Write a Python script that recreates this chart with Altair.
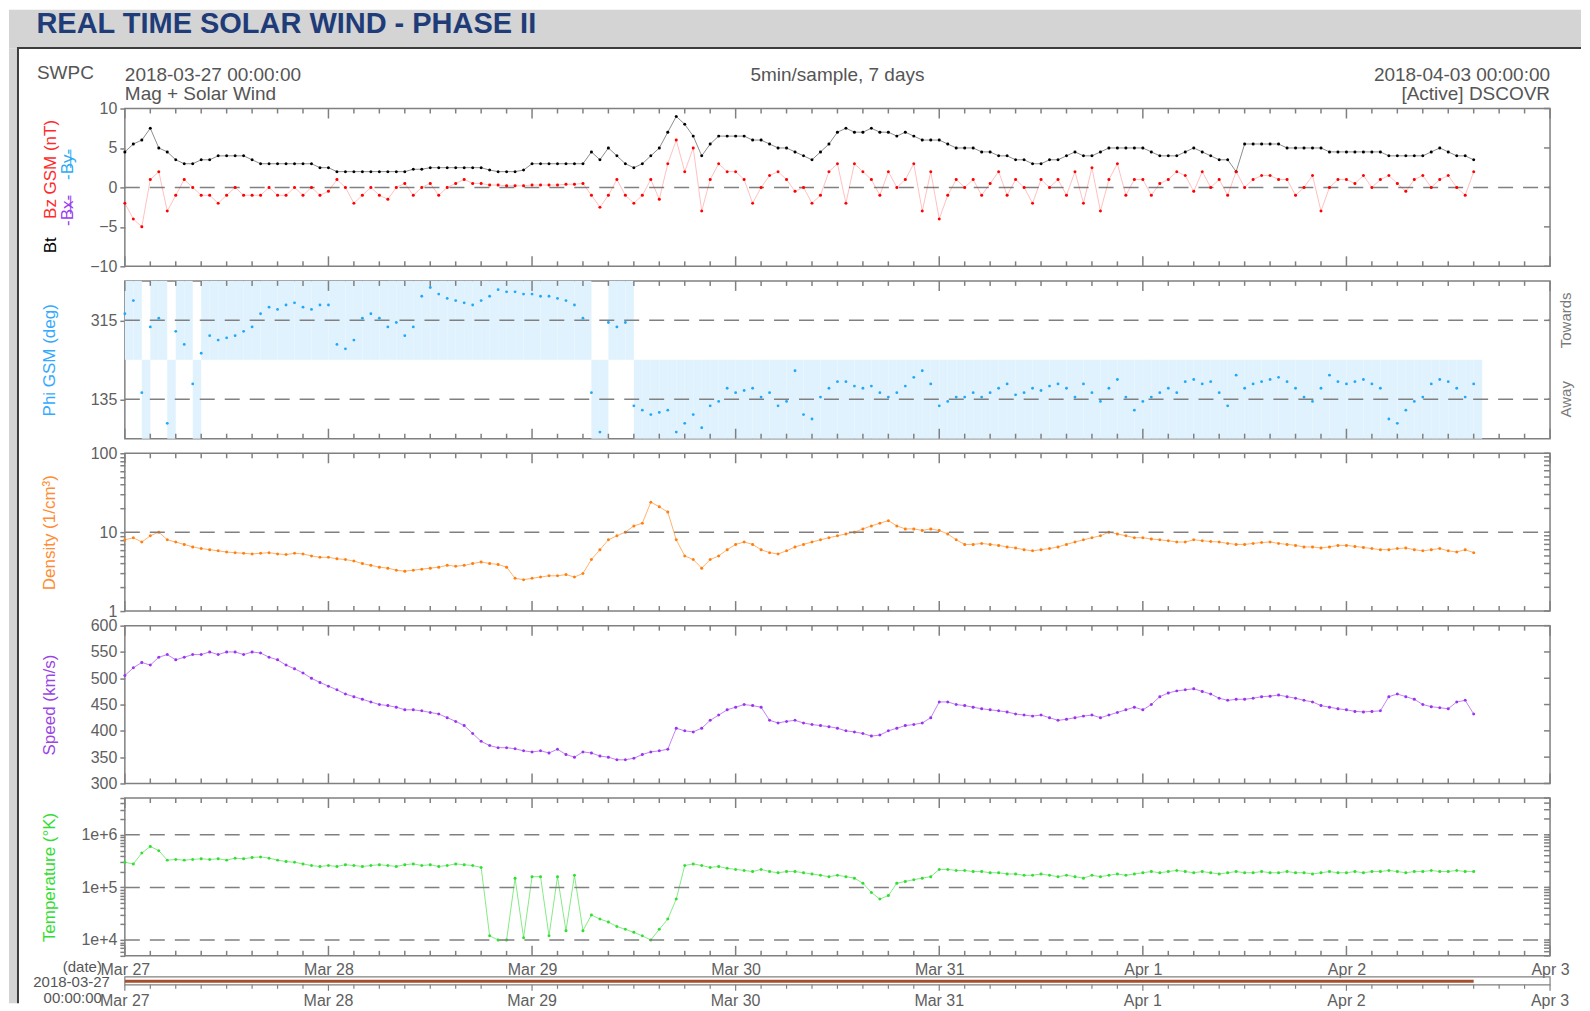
import altair as alt
import pandas as pd

# ---------------- data: hourly readings, hour 0 = 2018-03-27 00:00 UTC ----------------
HOURS = list(range(160))
BT = [4.5, 5.5, 6, 7.5, 5, 4.5, 3.5, 3, 3, 3.5, 3.5, 4, 4, 4, 4, 3.5, 3, 3, 3, 3, 3, 3, 3, 2.5,
      2.5, 2, 2, 2, 2, 2, 2, 2, 2, 2, 2.3, 2.3, 2.5, 2.5, 2.5, 2.5, 2.5, 2.5, 2.5, 2.2, 2, 2, 2, 2.2,
      3, 3, 3, 3, 3, 3, 3, 4.5, 3.5, 5, 4, 3, 2.5, 3, 4, 5, 7, 9, 8, 6.5, 4, 5.5, 6.5, 6.5,
      6.5, 6.5, 6, 6, 5.5, 5, 5, 4.5, 4, 3.5, 4.5, 5.5, 7, 7.5, 7, 7, 7.5, 7, 7, 6.5, 7, 6.5, 6, 6,
      6, 5.5, 5, 5, 5, 4.5, 4.5, 4, 4, 3.5, 3.5, 3, 3, 3.5, 3.5, 4, 4.5, 4, 4, 4.5, 5, 5, 5, 5,
      5, 4.5, 4, 4, 4, 4.5, 5, 4.5, 4, 3.5, 3.5, 2, 5.5, 5.5, 5.5, 5.5, 5.5, 5, 5, 5, 5, 5, 4.5, 4.5,
      4.5, 4.5, 4.5, 4.5, 4.5, 4, 4, 4, 4, 4, 4.5, 5, 4.5, 4, 4, 3.5]
BZ = [-2, -4, -5, 1, 2, -3, -1, 1, 0, -1, -1, -2, -1, 0, -1, -1, -1, 0, -1, -1, 0, -1, 0, -1,
      -0.5, 1, 0, -2, -1, 0, -1, -1.5, 0, 0.5, -1, 0, 0.5, -1, 0, 0.5, 1, 0.5, 0.5, 0.3, 0.3, 0.2, 0.2, 0.2,
      0.3, 0.3, 0.3, 0.3, 0.4, 0.4, 0.5, -1, -2.5, -1, 1, -1, -2, -1, 1, -1.5, 3, 6, 2, 5, -3, 1, 3, 2,
      2, 1, -2, 0, 1.5, 2, 1, -0.5, 0, -2, -1, 2, 3, -2, 3, 2, 1, -1, 2, 0, 1, 3, -3, 2,
      -4, -1, 1, 0, 1, -1, 0.5, 2, -1, 1, 0, -2, 1, 0, 1, -1, 2, -2, 2.5, -3, 1, 3, -1, 1,
      1, -1, 0.5, 1, 2, 1.5, -0.5, 2, 0, 1, -1, 2, 0, 1, 1.5, 1.5, 1, 1, -1, 0, 1.5, -3, 0, 1,
      1, 0.5, 1.5, 0, 1, 1.5, 0.5, -0.5, 1, 1.5, 0, 1, 1.5, 0, -1, 2]
PHI = [330, 360, 150, 300, 320, 80, 290, 260, 170, 240, 280, 270, 275, 280, 290, 300, 330, 345, 340, 350, 355, 345, 340, 350,
       350, 260, 250, 270, 320, 330, 320, 300, 310, 280, 300, 370, 390, 375, 365, 360, 355, 350, 360, 370, 385, 380, 380, 375,
       375, 370, 370, 365, 360, 350, 320, 150, 60, 310, 300, 310, 120, 110, 100, 105, 110, 60, 80, 100, 70, 120, 130, 160,
       150, 155, 160, 140, 150, 120, 130, 200, 100, 90, 140, 160, 175, 175, 165, 160, 165, 150, 140, 150, 165, 185, 200, 170,
       120, 130, 140, 140, 150, 140, 150, 160, 170, 145, 150, 160, 155, 165, 170, 160, 140, 170, 150, 130, 160, 180, 140, 110,
       130, 140, 150, 160, 150, 175, 180, 170, 175, 150, 120, 190, 160, 170, 175, 180, 185, 175, 160, 140, 130, 160, 190, 175,
       170, 175, 180, 170, 160, 90, 80, 110, 130, 140, 170, 180, 175, 160, 140, 170]
DENSITY = [8, 8.5, 7.5, 9, 10, 8, 7.5, 7, 6.5, 6.2, 6, 5.8, 5.6, 5.5, 5.4, 5.3, 5.4, 5.5, 5.3, 5.2, 5.4, 5.3, 5, 4.8,
           4.8, 4.6, 4.5, 4.3, 4, 3.8, 3.6, 3.5, 3.3, 3.2, 3.3, 3.4, 3.5, 3.6, 3.8, 3.7, 3.8, 4, 4.2, 4, 3.9, 3.6, 2.6, 2.5,
           2.6, 2.7, 2.8, 2.8, 2.9, 2.7, 3, 4.5, 6, 8, 9, 10, 12, 13, 24, 21, 18, 8, 5, 4.5, 3.5, 4.5, 5, 6,
           7, 7.5, 7, 6, 5.5, 5.3, 5.8, 6.5, 7, 7.5, 8, 8.5, 9, 9.5, 10, 11, 12, 13, 14, 12, 11, 11, 10.5, 11,
           10.5, 9.5, 8, 7, 7, 7.2, 7, 6.8, 6.5, 6.3, 6, 5.8, 6, 6.2, 6.5, 7, 7.5, 8, 8.5, 9, 10, 9.5, 9, 8.5,
           8.5, 8.2, 8, 7.8, 7.5, 7.5, 8, 7.8, 7.6, 7.5, 7.2, 7, 7, 7.2, 7.4, 7.5, 7.2, 7, 6.8, 6.5, 6.5, 6.3, 6.5, 6.8,
           6.8, 6.6, 6.4, 6.2, 6, 6, 6.2, 6.3, 6, 5.8, 6, 6.2, 5.8, 5.6, 6, 5.5]
SPEED = [505, 520, 530, 525, 540, 545, 535, 540, 545, 545, 550, 545, 550, 550, 545, 550, 548, 540, 535, 525, 518, 510, 500, 492,
         485, 478, 470, 465, 460, 455, 450, 448, 445, 440, 440, 438, 435, 432, 425, 418, 410, 395, 380, 372, 368, 368, 366, 362,
         360, 362, 358, 365, 355, 350, 360, 358, 352, 350, 345, 345, 348, 355, 360, 362, 365, 405, 400, 398, 405, 420, 430, 440,
         445, 450, 448, 445, 420, 415, 418, 420, 415, 412, 410, 408, 405, 400, 398, 395, 390, 392, 400, 405, 410, 412, 415, 425,
         455, 455, 450, 448, 445, 442, 440, 438, 436, 432, 430, 428, 430, 425, 420, 422, 425, 428, 430, 425, 430, 435, 440, 445,
         440, 450, 465, 472, 476, 478, 480, 475, 470, 462, 458, 460, 460, 462, 465, 466, 468, 465, 462, 458, 455, 448, 445, 442,
         440, 437, 436, 437, 438, 465, 470, 465, 460, 450, 446, 444, 442, 455, 458, 432]
TEMP = [3e5, 2.8e5, 4.5e5, 6e5, 5e5, 3.3e5, 3.4e5, 3.3e5, 3.4e5, 3.5e5, 3.4e5, 3.5e5, 3.3e5, 3.6e5, 3.5e5, 3.7e5, 3.8e5, 3.6e5, 3.3e5, 3.1e5, 3e5, 2.8e5, 2.6e5, 2.5e5,
        2.6e5, 2.5e5, 2.7e5, 2.6e5, 2.5e5, 2.6e5, 2.7e5, 2.6e5, 2.5e5, 2.7e5, 2.8e5, 2.6e5, 2.7e5, 2.5e5, 2.6e5, 2.8e5, 2.7e5, 2.6e5, 2.4e5, 1.2e4, 1e4, 1e4, 1.5e5, 1.1e4,
        1.6e5, 1.6e5, 1.2e4, 1.6e5, 1.5e4, 1.7e5, 1.5e4, 3e4, 2.5e4, 2.2e4, 1.8e4, 1.6e4, 1.4e4, 1.2e4, 1e4, 1.6e4, 2.5e4, 6e4, 2.6e5, 2.8e5, 2.6e5, 2.4e5, 2.5e5, 2.3e5,
        2.2e5, 2.1e5, 2e5, 2.2e5, 2e5, 1.9e5, 2e5, 2e5, 1.9e5, 1.8e5, 1.7e5, 1.6e5, 1.7e5, 1.6e5, 1.5e5, 1.2e5, 8e4, 6e4, 7e4, 1.2e5, 1.3e5, 1.4e5, 1.5e5, 1.6e5,
        2.2e5, 2.2e5, 2.1e5, 2.1e5, 2e5, 2e5, 1.9e5, 1.9e5, 1.8e5, 1.8e5, 1.7e5, 1.7e5, 1.8e5, 1.7e5, 1.6e5, 1.7e5, 1.6e5, 1.5e5, 1.7e5, 1.6e5, 1.7e5, 1.8e5, 1.7e5, 1.8e5,
        1.9e5, 2e5, 1.9e5, 2e5, 2.1e5, 2e5, 1.9e5, 2e5, 1.9e5, 1.8e5, 1.9e5, 2e5, 1.9e5, 1.9e5, 2e5, 1.9e5, 1.9e5, 2e5, 1.9e5, 1.9e5, 1.8e5, 1.9e5, 2e5, 1.9e5,
        1.9e5, 2e5, 1.9e5, 2e5, 2e5, 2.1e5, 2e5, 1.9e5, 2e5, 2e5, 2.1e5, 2e5, 2e5, 2.1e5, 2e5, 2e5]

DAY_LABELS = ["Mar 27", "Mar 28", "Mar 29", "Mar 30", "Mar 31", "Apr 1", "Apr 2", "Apr 3"]
DAY_TICKS = [0, 24, 48, 72, 96, 120, 144, 168]
MINOR_TICKS = [3, 6, 9, 12, 15, 18, 21, 27, 30, 33, 36, 39, 42, 45, 51, 54, 57, 60, 63, 66, 69,
               75, 78, 81, 84, 87, 90, 93, 99, 102, 105, 108, 111, 114, 117, 123, 126, 129, 132, 135, 138, 141,
               147, 150, 153, 156, 159, 162, 165]
BZ_TICKS = [-10, -5, 0, 5, 10]
PHI_TICKS = [135, 315]
SPEED_TICKS = [300, 350, 400, 450, 500, 550, 600]
DENS_TICKS = [1, 2, 3, 4, 5, 6, 7, 8, 9, 10, 20, 30, 40, 50, 60, 70, 80, 90, 100]
TEMP_TICKS = [5000, 6000, 7000, 8000, 9000, 10000, 20000, 30000, 40000, 50000, 60000, 70000, 80000, 90000,
              100000, 200000, 300000, 400000, 500000, 600000, 700000, 800000, 900000,
              1000000, 2000000, 3000000, 4000000, 5000000]
BZ_LINES = [0]
PHI_LINES = [135, 315]
DENS_LINES = [10]
TEMP_LINES = [10000, 100000, 1000000]
SECTOR_LABELS = ["Towards", "Away"]
SECTOR_CENTERS = [315, 135]

# ---------------- layout / style ----------------
W, H, GAP = 1427, 158, 14.6
FONT = "Liberation Sans"
FRAME = "#808080"
LBL = "#606060"
HDR = "#555555"
DAY_ARR = "[" + ",".join("'%s'" % d for d in DAY_LABELS) + "]"

df = pd.DataFrame({"hour": HOURS, "bt": BT, "bz": BZ, "phi": PHI,
                   "density": DENSITY, "speed": SPEED, "temp": TEMP})
df["hour_end"] = df["hour"] + 1
ONE = alt.Data(values=[{}])

XS = alt.Scale(domain=[0, 168], nice=False, zero=False)
BZS = alt.Scale(domain=[-10, 10], nice=False, zero=False)
PHIS = alt.Scale(domain=[45, 405], nice=False, zero=False)
DENS = alt.Scale(type="log", domain=[1, 100], nice=False)
SPDS = alt.Scale(domain=[300, 600], nice=False, zero=False)
TMPS = alt.Scale(type="log", domain=[5000, 5000000], nice=False)

XNONE = alt.Axis(labels=False, ticks=False, domain=False, grid=False, title=None)


def yleft(values, title=None, tcolor=None, expr=None):
    kw = dict(orient="left", values=values, domain=False, grid=False, tickColor=FRAME, tickWidth=1.5,
              tickSize=5, labelColor=LBL, labelFont=FONT, labelFontSize=16, labelPadding=3,
              labelBaseline="middle", labelFlush=False, labelOverlap=False, tickCount=len(values))
    if expr:
        kw["labelExpr"] = expr
    if title:
        kw.update(title=title, titleColor=tcolor, titleFont=FONT, titleFontSize=17, titleFontWeight="normal",
                  titleX=-75, titleY=H / 2, titleAngle=270, titleBaseline="middle", titleAlign="center")
    else:
        kw["title"] = None
    return alt.Axis(**kw)


def T(s, x, y, size=19, color=HDR, align="left", angle=0, weight="normal"):
    return alt.Chart(ONE).mark_text(text=s, font=FONT, fontSize=size, color=color, align=align,
                                    angle=angle, fontWeight=weight, baseline="middle").encode(
        x=alt.value(x), y=alt.value(y))


def R(x, x2, y, y2, color):
    return alt.Chart(ONE).mark_rect(color=color).encode(
        x=alt.value(x), x2=alt.value(x2), y=alt.value(y), y2=alt.value(y2))


def dash(vals, ys, ya):
    return alt.Chart(pd.DataFrame({"v": vals})).mark_rule(
        color=FRAME, strokeWidth=1.5, strokeDash=[15, 10]).encode(
        y=alt.Y("v:Q", scale=ys, axis=ya), x=alt.value(0), x2=alt.value(W))


def frame_ticks(yvals, ys, xa, ya):
    """inward time ticks on top and bottom edges, inward value ticks on the right edge"""
    out = []
    for vals, ln in ((MINOR_TICKS, 5), (DAY_TICKS, 10)):
        d = pd.DataFrame({"t": vals})
        out.append(alt.Chart(d).mark_rule(color=FRAME, strokeWidth=1.5).encode(
            x=alt.X("t:Q", scale=XS, axis=xa), y=alt.value(0), y2=alt.value(ln)))
        out.append(alt.Chart(d).mark_rule(color=FRAME, strokeWidth=1.5).encode(
            x=alt.X("t:Q", scale=XS, axis=xa), y=alt.value(H), y2=alt.value(H - ln)))
    out.append(alt.Chart(pd.DataFrame({"v": yvals})).mark_rule(color=FRAME, strokeWidth=1.5).encode(
        y=alt.Y("v:Q", scale=ys, axis=ya), x=alt.value(W), x2=alt.value(W - 6)))
    return out


def series(field, color, ys, xa, ya, line=True, lop=0.5, size=9):
    base = alt.Chart(df)
    out = []
    if line:
        out.append(base.mark_line(color=color, strokeWidth=1, opacity=lop).encode(
            x=alt.X("hour:Q", scale=XS, axis=xa),
            y=alt.Y(field + ":Q", scale=ys, axis=ya)))
    out.append(base.mark_circle(color=color, size=size, opacity=1).encode(
        x=alt.X("hour:Q", scale=XS, axis=xa),
        y=alt.Y(field + ":Q", scale=ys, axis=ya)))
    return out


# ---------------- panel 1 : magnetic field ----------------
YA1 = yleft(BZ_TICKS)
p1 = alt.layer(
    R(-116, 1458, -99, -60, "#d4d4d4"),
    R(-116, -108, -60, 896, "#d4d4d4"),
    R(-108, 1458, -61.5, -59.5, "#3c3c3c"),
    R(-108, -106, -61.5, 896, "#3c3c3c"),
    T("REAL TIME SOLAR WIND - PHASE II", -88.5, -85, size=29, color="#203c78", weight="bold"),
    T("SWPC", -88, -36),
    T("2018-03-27 00:00:00", 0, -34),
    T("Mag + Solar Wind", 0, -15),
    T("5min/sample, 7 days", W / 2, -34, align="center"),
    T("2018-04-03 00:00:00", W, -34, align="right"),
    T("[Active] DSCOVR", W, -15, align="right"),
    T("Bz GSM (nT)", -74, 61, size=17, color="#ff2a2a", align="center", angle=270),
    T("Bt", -74, 137, size=17, color="#000000", align="center", angle=270),
    T("-B\u0336x\u0336-", -57, 102, size=17, color="#9b3cf0", align="center", angle=270),
    T("-B\u0336y\u0336-", -57, 56, size=17, color="#2eaaf5", align="center", angle=270),
    *series("bt", "#000000", BZS, XNONE, YA1, lop=0.45),
    dash(BZ_LINES, BZS, YA1),
    *frame_ticks(BZ_TICKS, BZS, XNONE, YA1),
    *series("bz", "#ff0000", BZS, XNONE, YA1, lop=0.25),
).properties(width=W, height=H)

# ---------------- panel 2 : phi ----------------
YA2 = yleft(PHI_TICKS, "Phi GSM (deg)", "#33aaff")
shade = alt.Chart(df).transform_calculate(
    lo="datum.phi >= 225 ? 225 : 45", hi="datum.phi >= 225 ? 405 : 225"
).mark_rect(color="#dff2fd").encode(
    x=alt.X("hour:Q", scale=XS, axis=XNONE), x2="hour_end:Q",
    y=alt.Y("lo:Q", scale=PHIS, axis=YA2), y2="hi:Q")
sectors = alt.Chart(pd.DataFrame({"label": SECTOR_LABELS, "center": SECTOR_CENTERS})).mark_text(
    angle=270, font=FONT, fontSize=15, color="#7a7a7a", align="center", baseline="middle").encode(
    y=alt.Y("center:Q", scale=PHIS, axis=YA2), text="label:N", x=alt.value(W + 16))
p2 = alt.layer(
    shade, dash(PHI_LINES, PHIS, YA2), *frame_ticks(PHI_TICKS, PHIS, XNONE, YA2),
    *series("phi", "#22a8f8", PHIS, XNONE, YA2, line=False, size=8),
    sectors,
).properties(width=W, height=H)

# ---------------- panel 3 : density ----------------
dens_expr = "datum.value == 1 || datum.value == 10 || datum.value == 100 ? format(datum.value, 'd') : ''"
YA3 = yleft(DENS_TICKS, "Density (1/cm\u00b3)", "#ff8c33", dens_expr)
p3 = alt.layer(
    *series("density", "#ff7f0e", DENS, XNONE, YA3, lop=0.6),
    dash(DENS_LINES, DENS, YA3), *frame_ticks(DENS_TICKS, DENS, XNONE, YA3),
).properties(width=W, height=H)

# ---------------- panel 4 : speed ----------------
YA4 = yleft(SPEED_TICKS, "Speed (km/s)", "#9a44e6")
p4 = alt.layer(
    *series("speed", "#9933ee", SPDS, XNONE, YA4, lop=0.6),
    *frame_ticks(SPEED_TICKS, SPDS, XNONE, YA4),
).properties(width=W, height=H)

# ---------------- panel 5 : temperature + time strip ----------------
temp_expr = ("datum.value == 10000 ? '1e+4' : datum.value == 100000 ? '1e+5' : "
             "datum.value == 1000000 ? '1e+6' : ''")
YA5 = yleft(TEMP_TICKS, "Temperature (\u00b0K)", "#33dd33", temp_expr)
XA5 = alt.Axis(orient="bottom", values=DAY_TICKS, ticks=False, domain=False, grid=False,
               title=None, labelExpr=DAY_ARR + "[round(datum.value / 24)]", labelColor=LBL,
               labelFont=FONT, labelFontSize=16, labelPadding=6, labelFlush=False, labelOverlap=False)
strip_box = alt.Chart(ONE).mark_rect(fillOpacity=0, stroke=FRAME, strokeWidth=1.2).encode(
    x=alt.value(0), x2=alt.value(W), y=alt.value(179), y2=alt.value(187))
strip_bar = alt.Chart(df).transform_aggregate(start="min(hour)", end="max(hour)").mark_rect(
    color="#a6502e").encode(x=alt.X("start:Q", scale=XS, axis=XA5), x2="end:Q",
                            y=alt.value(182), y2=alt.value(185))
strip_ticks = [alt.Chart(pd.DataFrame({"t": vals})).mark_rule(color=FRAME, strokeWidth=1.2).encode(
    x=alt.X("t:Q", scale=XS, axis=XA5), y=alt.value(187), y2=alt.value(187 + ln))
    for vals, ln in ((MINOR_TICKS, 4), (DAY_TICKS, 6))]
strip_labels = alt.Chart(pd.DataFrame({"t": DAY_TICKS, "label": DAY_LABELS})).mark_text(
    font=FONT, fontSize=16, color=LBL, baseline="middle", align="center").encode(
    x=alt.X("t:Q", scale=XS, axis=XA5), y=alt.value(203), text="label:N")
p5 = alt.layer(
    *series("temp", "#33dd33", TMPS, XA5, YA5, lop=0.6),
    dash(TEMP_LINES, TMPS, YA5), *frame_ticks(TEMP_TICKS, TMPS, XA5, YA5),
    strip_box, strip_bar, *strip_ticks, strip_labels,
    T("(date)", -23, 169, size=15, color=HDR, align="right"),
    T("2018-03-27", -15, 184.5, size=15, color=HDR, align="right"),
    T("00:00:00", -23, 200, size=15, color=HDR, align="right"),
).properties(width=W, height=H)

chart = alt.vconcat(p1, p2, p3, p4, p5, spacing=GAP, bounds="flush").properties(
    padding=0, background="white").configure_view(stroke=FRAME, strokeWidth=1.5)

chart.save("out.html", embed_options={"renderer": "svg", "actions": False})
